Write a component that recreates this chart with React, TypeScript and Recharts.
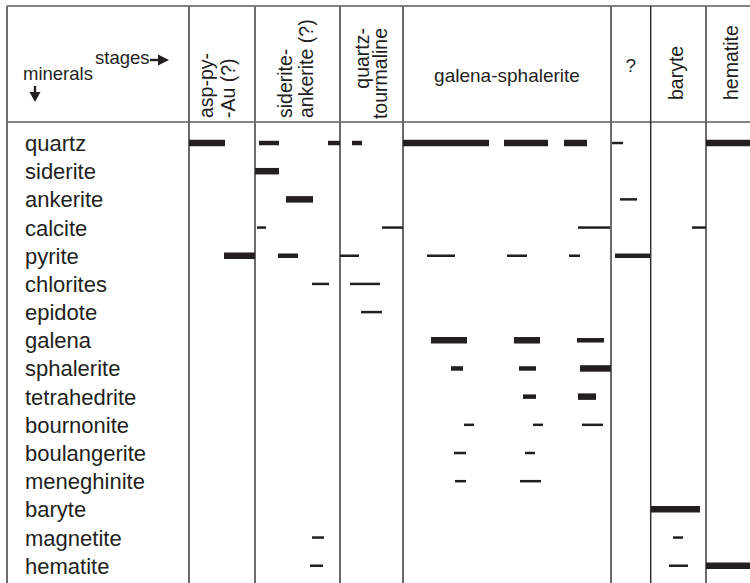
import React from 'react'
import { ScatterChart, Scatter, XAxis, YAxis, ReferenceLine, ReferenceArea } from 'recharts'

const INK = '#231f20'
const FONT = '"Liberation Sans", Arial, Helvetica, sans-serif'

const minerals = [
  'quartz', 'siderite', 'ankerite', 'calcite', 'pyrite', 'chlorites', 'epidote', 'galena',
  'sphalerite', 'tetrahedrite', 'bournonite', 'boulangerite', 'meneghinite', 'baryte', 'magnetite', 'hematite',
]

const stageNames = [
  ['asp-py-', '-Au (?)'],
  ['siderite-', 'ankerite (?)'],
  ['quartz-', 'tourmaline'],
  ['galena-sphalerite'],
  ['?'],
  ['baryte'],
  ['hematite'],
]
// relative time axis, stage boundaries
const stageEdges = [7, 189, 255, 340, 403, 611, 650.7, 706, 750]

// [start, end, abundance]
type Seg = [number, number, 'major' | 'minor' | 'trace']
const quartz: Seg[] = [[189, 225, 'major'], [259, 279, 'minor'], [328, 340, 'minor'], [352, 362, 'minor'], [403, 489, 'major'], [504, 548, 'major'], [564, 587, 'major'], [612, 623, 'trace'], [706, 750, 'major']]
const siderite: Seg[] = [[255, 279, 'major']]
const ankerite: Seg[] = [[286, 313, 'major'], [620, 637, 'trace']]
const calcite: Seg[] = [[257, 266, 'trace'], [382, 403, 'trace'], [578, 610, 'trace'], [692, 706, 'trace']]
const pyrite: Seg[] = [[224, 255, 'major'], [278, 298, 'minor'], [340, 359, 'trace'], [427, 455, 'trace'], [507, 527, 'trace'], [569, 580, 'trace'], [615, 650, 'minor']]
const chlorites: Seg[] = [[312, 329, 'trace'], [350, 380, 'trace']]
const epidote: Seg[] = [[361, 382, 'trace']]
const galena: Seg[] = [[431, 467, 'major'], [514, 540, 'major'], [577, 604, 'minor']]
const sphalerite: Seg[] = [[451, 463, 'minor'], [519, 536, 'minor'], [580, 611, 'major']]
const tetrahedrite: Seg[] = [[523, 536, 'minor'], [578, 596, 'major']]
const bournonite: Seg[] = [[464, 474, 'trace'], [533, 543, 'trace'], [582, 603, 'trace']]
const boulangerite: Seg[] = [[454, 466, 'trace'], [525, 535, 'trace']]
const meneghinite: Seg[] = [[455, 466, 'trace'], [520, 541, 'trace']]
const baryte: Seg[] = [[651, 700, 'major']]
const magnetite: Seg[] = [[312, 324, 'trace'], [673, 683, 'trace']]
const hematite: Seg[] = [[310, 323, 'trace'], [669, 688, 'trace'], [706, 750, 'major']]

const segments = [quartz, siderite, ankerite, calcite, pyrite, chlorites, epidote, galena,
  sphalerite, tetrahedrite, bournonite, boulangerite, meneghinite, baryte, magnetite, hematite]

const barWidth = { major: 6.5, minor: 4.5, trace: 2.5 }

const headerTop = -4.862
const headerBottom = -0.745
const yDomain: [number, number] = [-4.933, 15.613]

// label layout per stage: baseline offsets from column centre, position along column
const stageLayout = [
  { rotate: true, offs: [-8.5, 13.5], at: 112, anchor: 'start' },
  { rotate: true, offs: [-5.5, 15.5], at: 112, anchor: 'start' },
  { rotate: true, offs: [-2.5, 15.5], at: 22, anchor: 'end' },
  { rotate: false, offs: [0], at: 76, anchor: 'middle' },
  { rotate: false, offs: [0], at: 66, anchor: 'middle' },
  { rotate: true, offs: [4.5], at: 94, anchor: 'start' },
  { rotate: true, offs: [10], at: 94, anchor: 'start' },
]

const noDot = () => <g />

function StageLabel(props: any, k: number) {
  const vb = props.viewBox
  if (!vb) return null
  const cx = vb.x + vb.width / 2
  const lay = stageLayout[k]
  return (
    <g>
      {stageNames[k].map((t, i) => {
        const x = cx + lay.offs[i]
        const y = vb.y + lay.at
        return lay.rotate ? (
          <text key={i} x={x} y={y} transform={`rotate(-90 ${x} ${y})`} textAnchor={lay.anchor as any}
            fontFamily={FONT} fontSize={19.5} fill={INK}>{t}</text>
        ) : (
          <text key={i} x={x} y={y} textAnchor="middle" fontFamily={FONT} fontSize={19} fill={INK}>{t}</text>
        )
      })}
    </g>
  )
}

function CornerLabel(props: any) {
  const vb = props.viewBox
  if (!vb) return null
  const x = vb.x
  const y = vb.y
  return (
    <g fill={INK} fontFamily={FONT} fontSize={18.5}>
      <text x={x + 88} y={y + 58}>stages</text>
      <rect x={x + 143} y={y + 52.8} width={10} height={2.4} />
      <polygon points={`${x + 151},${y + 48.5} ${x + 162},${y + 54} ${x + 151},${y + 59.5}`} />
      <text x={x + 16} y={y + 74}>minerals</text>
      <rect x={x + 26.8} y={y + 80} width={2.4} height={8} />
      <polygon points={`${x + 22.5},${y + 86} ${x + 28},${y + 96} ${x + 33.5},${y + 86}`} />
    </g>
  )
}

function MineralTick(props: any) {
  const { y, payload } = props
  return (
    <text x={25} y={y + 8} fontFamily={FONT} fontSize={22} fill={INK}>{minerals[payload.value]}</text>
  )
}

export default function App() {
  return (
    <div style={{ position: 'absolute', left: 0, top: 0, background: '#fff' }}>
      <ScatterChart width={750} height={583} margin={{ top: 4, right: 0, bottom: 0, left: 7 }}>
        <XAxis type="number" dataKey="x" domain={[7, 750]} allowDataOverflow hide />
        <YAxis type="number" dataKey="y" domain={yDomain} allowDataOverflow reversed mirror width={180}
          ticks={minerals.map((_, i) => i)} interval={0} axisLine={false} tickLine={false} tick={<MineralTick />} />

        <ReferenceArea x1={stageEdges[0]} x2={stageEdges[1]} y1={headerTop} y2={headerBottom}
          fill="none" stroke="none" label={(p: any) => CornerLabel(p)} />
        {stageNames.map((_, k) => (
          <ReferenceArea key={'st' + k} x1={stageEdges[k + 1]} x2={stageEdges[k + 2]} y1={headerTop} y2={headerBottom}
            fill="none" stroke="none" label={(p: any) => StageLabel(p, k)} />
        ))}

        <ReferenceLine y={headerTop} stroke="#5a5a5a" strokeWidth={1.6} />
        <ReferenceLine y={headerBottom} stroke="#5a5a5a" strokeWidth={1.6} />
        {stageEdges.slice(0, -1).map((e, k) => (
          <ReferenceLine key={'v' + k} segment={[{ x: e, y: headerTop }, { x: e, y: yDomain[1] }]}
            stroke={k === 6 ? '#333' : '#6b6b6b'} strokeWidth={k === 6 ? 1.5 : 2} />
        ))}

        {segments.map((row, i) => row.map((s, j) => (
          <Scatter key={minerals[i] + j} data={[{ x: s[0], y: i }, { x: s[1], y: i }]} fill="none"
            line={{ stroke: INK, strokeWidth: barWidth[s[2]] }} shape={noDot} isAnimationActive={false} />
        )))}
      </ScatterChart>
    </div>
  )
}
